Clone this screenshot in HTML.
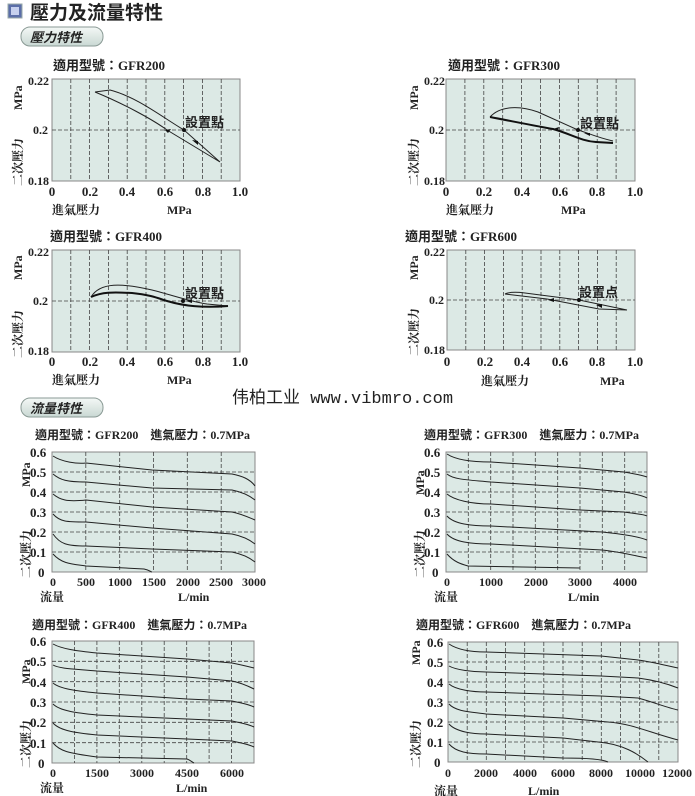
<!DOCTYPE html>
<html><head><meta charset="utf-8"><style>
body{margin:0;background:#fff;width:695px;height:796px;overflow:hidden}
svg{display:block}
text{font-family:"Liberation Serif","Noto Serif CJK SC",serif;font-weight:bold;fill:#222}
.z{font-family:"Liberation Serif","Noto Sans CJK TC",sans-serif}
.g{stroke:#444;stroke-width:.8;stroke-dasharray:4 2;fill:none}
.c{fill:none;stroke:#222;stroke-width:1}
.t{fill:none;stroke:#111;stroke-width:2}
.bx{fill:#dce9e5;stroke:#888;stroke-width:1}
</style></head><body>
<svg width="695" height="796" viewBox="0 0 695 796" xmlns="http://www.w3.org/2000/svg">
<defs>
<linearGradient id="pill" x1="0" y1="0" x2="0" y2="1"><stop offset="0" stop-color="#f4f8f6"/><stop offset="1" stop-color="#c9d8d3"/></linearGradient>
</defs>
<!-- header -->
<rect x="8" y="4" width="14" height="14" fill="#5b6ea8" stroke="#9aa" />
<rect x="11" y="7" width="8" height="8" fill="#c6d0ee"/>
<text x="30" y="19" font-size="19" class="z">壓力及流量特性</text>
<rect x="21" y="27" width="82" height="19" rx="9" fill="url(#pill)" stroke="#8a9a95"/>
<text x="30" y="42" font-size="13" class="z" font-style="italic">壓力特性</text>
<rect x="21" y="398" width="82" height="19" rx="9" fill="url(#pill)" stroke="#8a9a95"/>
<text x="30" y="413" font-size="13" class="z" font-style="italic">流量特性</text>
<text x="232" y="403" font-size="17" style="font-family:'Liberation Mono','Noto Sans CJK SC',monospace;font-weight:normal">伟柏工业 www.vibmro.com</text>

<!-- ===== Pressure chart 1 ===== -->
<text x="53" y="70" font-size="13" class="z">適用型號：GFR200</text>
<g transform="translate(52,79)">
<rect class="bx" width="188" height="102"/>
<path class="g" d="M18.8 0V102M37.6 0V102M56.4 0V102M75.2 0V102M94 0V102M112.8 0V102M131.6 0V102M150.4 0V102M169.2 0V102M0 51H188"/>
<path class="c" d="M43,13 L58,11 C85,18 110,38 132,51 L168,83 M43,13 C70,24 100,40 115,51 L168,83"/>
<path d="M113,51 l6,-1 -3,4z M146,66 l-6,-5 6,1z" fill="#111"/>
<circle cx="132" cy="51" r="2" fill="#111"/>
<text x="133" y="48" font-size="13" class="z">設置點</text>
</g>
<!-- ===== Pressure chart 2 ===== -->
<text x="448" y="70" font-size="13" class="z">適用型號：GFR300</text>
<g transform="translate(446,79)">
<rect class="bx" width="189" height="102"/>
<path class="g" d="M18.9 0V102M37.8 0V102M56.7 0V102M75.6 0V102M94.5 0V102M113.4 0V102M132.3 0V102M151.2 0V102M170.1 0V102M0 51H189"/>
<path class="c" d="M44,38 C55,26 75,27 92,33 L132,51 C145,55 150,58 167,62"/>
<path class="t" d="M44,38 C70,43 95,48 107,50 C125,55 135,62 150,63 L167,64"/>
<path d="M107,50 l6,-2 -1,4z M144,57 l-6,-3 6,0z" fill="#111"/>
<circle cx="132" cy="51" r="2" fill="#111"/>
<text x="134" y="49" font-size="13" class="z">設置點</text>
</g>
<!-- ===== Pressure chart 3 ===== -->
<text x="50" y="241" font-size="13" class="z">適用型號：GFR400</text>
<g transform="translate(52,250)">
<rect class="bx" width="188" height="102"/>
<path class="g" d="M18.8 0V102M37.6 0V102M56.4 0V102M75.2 0V102M94 0V102M112.8 0V102M131.6 0V102M150.4 0V102M169.2 0V102M0 51H188"/>
<path class="c" d="M39,47 C48,32 70,33 100,40 C120,45 140,52 155,54 L176,56"/>
<path class="t" d="M39,47 C50,42 60,42 80,43 C100,45 108,49 115,51 C132,56 150,58 176,56"/>
<circle cx="131" cy="51" r="2" fill="#111"/>
<path d="M140,53 l-6,-2 6,-2z" fill="#111"/>
<text x="133" y="48" font-size="13" class="z">設置點</text>
</g>
<!-- ===== Pressure chart 4 ===== -->
<text x="405" y="241" font-size="13" class="z">適用型號：GFR600</text>
<g transform="translate(447,250)">
<rect class="bx" width="188" height="100"/>
<path class="g" d="M18.8 0V100M37.6 0V100M56.4 0V100M75.2 0V100M94 0V100M112.8 0V100M131.6 0V100M150.4 0V100M169.2 0V100M0 50H188"/>
<path class="c" d="M58,44 C62,42 70,42 78,43 L132,50 L180,60 M58,44 L100,49 L152,59 L180,60"/>
<path d="M101,50 l6,-2 0,4z M155,58 l-6,-3 6,-1z" fill="#111"/>
<circle cx="132" cy="50" r="2" fill="#111"/>
<text x="132" y="47" font-size="13" class="z">設置点</text>
</g>

<!-- pressure axes labels -->
<g font-size="12">
<text x="28" y="85">0.22</text><text x="33" y="134">0.2</text><text x="28" y="185">0.18</text>
<text x="424" y="85">0.22</text><text x="429" y="134">0.2</text><text x="424" y="185">0.18</text>
<text x="28" y="256">0.22</text><text x="33" y="305">0.2</text><text x="28" y="355">0.18</text>
<text x="424" y="256">0.22</text><text x="429" y="304">0.2</text><text x="424" y="354">0.18</text>
</g>
<g font-size="13" text-anchor="middle">
<text x="52" y="196">0</text><text x="90" y="196">0.2</text><text x="127" y="196">0.4</text><text x="165" y="196">0.6</text><text x="203" y="196">0.8</text><text x="240" y="196">1.0</text>
<text x="446" y="196">0</text><text x="484" y="196">0.2</text><text x="522" y="196">0.4</text><text x="560" y="196">0.6</text><text x="597" y="196">0.8</text><text x="635" y="196">1.0</text>
<text x="52" y="366">0</text><text x="90" y="366">0.2</text><text x="127" y="366">0.4</text><text x="165" y="366">0.6</text><text x="203" y="366">0.8</text><text x="240" y="366">1.0</text>
<text x="447" y="366">0</text><text x="485" y="366">0.2</text><text x="522" y="366">0.4</text><text x="560" y="366">0.6</text><text x="597" y="366">0.8</text><text x="635" y="366">1.0</text>
</g>
<g font-size="12" class="z">
<text x="52" y="214">進氣壓力</text><text x="167" y="214">MPa</text>
<text x="446" y="214">進氣壓力</text><text x="561" y="214">MPa</text>
<text x="52" y="384">進氣壓力</text><text x="167" y="384">MPa</text>
<text x="481" y="385">進氣壓力</text><text x="600" y="385">MPa</text>
</g>
<g font-size="12" class="z">
<text transform="translate(22,110) rotate(-90)">MPa</text><text transform="translate(22,186) rotate(-90)">二次壓力</text>
<text transform="translate(418,110) rotate(-90)">MPa</text><text transform="translate(418,186) rotate(-90)">二次壓力</text>
<text transform="translate(22,280) rotate(-90)">MPa</text><text transform="translate(22,358) rotate(-90)">二次壓力</text>
<text transform="translate(418,280) rotate(-90)">MPa</text><text transform="translate(418,356) rotate(-90)">二次壓力</text>
</g>

<!-- ===== Flow chart A GFR200 ===== -->
<text x="35" y="439" font-size="12" class="z">適用型號：GFR200　進氣壓力：0.7MPa</text>
<g transform="translate(52,452)">
<rect class="bx" width="203" height="120"/>
<path class="g" d="M33.8 0V120M67.7 0V120M101.5 0V120M135.3 0V120M169.2 0V120M0 20H203M0 40H203M0 60H203M0 80H203M0 100H203"/>
<path class="c" d="M1,4 C10,10 25,12 34,11 L100,18 L180,22 C190,24 198,27 203,34
M1,22 C8,28 15,30 34,30 L100,36 L180,38 C190,40 198,44 203,48
M1,42 C8,48 15,50 34,48 L100,55 L180,60 C190,62 198,66 203,68
M1,62 C8,70 15,70 34,70 L100,76 L180,82 C190,84 198,88 203,92
M1,82 C8,92 15,94 34,94 L100,97 L180,100 C190,102 198,106 203,110
M1,102 C10,112 20,112 34,114 L92,117 C97,118 99,120 100,120"/>
</g>
<!-- ===== Flow chart B GFR300 ===== -->
<text x="424" y="439" font-size="12" class="z">適用型號：GFR300　進氣壓力：0.7MPa</text>
<g transform="translate(446,452)">
<rect class="bx" width="201" height="120"/>
<path class="g" d="M22.3 0V120M44.7 0V120M67 0V120M89.3 0V120M111.7 0V120M134 0V120M156.3 0V120M178.7 0V120M0 20H201M0 40H201M0 60H201M0 80H201M0 100H201"/>
<path class="c" d="M1,2 C10,8 25,10 45,10 L134,16 L178,20 C190,22 198,24 201,25
M1,22 C8,28 25,28 45,30 L134,36 L178,40 C190,42 198,44 201,46
M1,42 C8,48 25,52 45,52 L134,58 L178,60 C190,62 198,62 201,64
M1,64 C8,72 25,74 45,74 L156,80 C175,82 190,84 201,88
M1,82 C8,90 25,92 45,92 L156,98 C175,100 190,104 201,106
M1,102 C8,110 15,112 22,114 L134,116"/>
</g>
<!-- ===== Flow chart C GFR400 ===== -->
<text x="32" y="629" font-size="12" class="z">適用型號：GFR400　進氣壓力：0.7MPa</text>
<g transform="translate(52,641)">
<rect class="bx" width="202" height="122"/>
<path class="g" d="M22.4 0V122M44.9 0V122M67.3 0V122M89.8 0V122M112.2 0V122M134.7 0V122M157.1 0V122M179.6 0V122M0 20.3H202M0 40.7H202M0 61H202M0 81.3H202M0 101.7H202"/>
<path class="c" d="M1,3 C10,8 25,10 45,12 L135,18 L180,22 C190,24 198,26 202,27
M1,24 C8,28 25,28 45,30 L135,36 L180,40 C190,42 198,46 202,48
M1,42 C8,48 25,50 45,52 L135,58 L180,60 C190,62 198,64 202,66
M1,63 C8,70 25,72 45,74 L135,78 L180,80 C190,82 198,84 202,86
M1,82 C8,90 25,92 45,94 L135,98 L180,100 C190,102 198,104 202,106
M1,102 C8,110 15,112 45,116 L135,118 C138,119 140,121 142,122"/>
</g>
<!-- ===== Flow chart D GFR600 ===== -->
<text x="416" y="629" font-size="12" class="z">適用型號：GFR600　進氣壓力：0.7MPa</text>
<g transform="translate(448,642)">
<rect class="bx" width="230" height="120"/>
<path class="g" d="M19.2 0V120M38.3 0V120M57.5 0V120M76.7 0V120M95.8 0V120M115 0V120M134.2 0V120M153.3 0V120M172.5 0V120M191.7 0V120M210.8 0V120M0 20H230M0 40H230M0 60H230M0 80H230M0 100H230"/>
<path class="c" d="M1,2 C10,8 25,10 38,10 L153,14 L190,18 C205,20 220,24 230,26
M1,24 C8,28 25,30 38,30 L153,34 L190,36 C205,38 220,42 230,46
M1,42 C8,48 25,50 38,50 L153,54 L190,56 C205,60 220,66 230,68
M1,62 C8,70 25,70 38,72 L115,76 L160,80 C185,82 200,90 230,98
M1,82 C8,90 25,92 38,92 L115,96 L150,100 C175,102 190,112 200,120
M1,102 C8,110 20,112 38,112 L115,116 C150,116 158,119 160,120"/>
</g>

<!-- flow tick labels -->
<g font-size="13">
<text x="30" y="457">0.6</text><text x="30" y="477">0.5</text><text x="30" y="497">0.4</text><text x="30" y="517">0.3</text><text x="30" y="537">0.2</text><text x="30" y="557">0.1</text><text x="38" y="577">0</text>
<text x="424" y="457">0.6</text><text x="424" y="477">0.5</text><text x="424" y="497">0.4</text><text x="424" y="517">0.3</text><text x="424" y="537">0.2</text><text x="424" y="557">0.1</text><text x="432" y="577">0</text>
<text x="30" y="646">0.6</text><text x="30" y="666">0.5</text><text x="30" y="687">0.4</text><text x="30" y="707">0.3</text><text x="30" y="727">0.2</text><text x="30" y="748">0.1</text><text x="38" y="768">0</text>
<text x="427" y="647">0.6</text><text x="427" y="667">0.5</text><text x="427" y="687">0.4</text><text x="427" y="707">0.3</text><text x="427" y="727">0.2</text><text x="427" y="747">0.1</text><text x="434" y="767">0</text>
</g>
<g font-size="12" text-anchor="middle">
<text x="53" y="586">0</text><text x="86" y="586">500</text><text x="120" y="586">1000</text><text x="154" y="586">1500</text><text x="188" y="586">2000</text><text x="221" y="586">2500</text><text x="254" y="586">3000</text>
<text x="447" y="586">0</text><text x="491" y="586">1000</text><text x="536" y="586">2000</text><text x="580" y="586">3000</text><text x="625" y="586">4000</text>
<text x="53" y="777">0</text><text x="97" y="777">1500</text><text x="142" y="777">3000</text><text x="187" y="777">4500</text><text x="232" y="777">6000</text>
<text x="448" y="777">0</text><text x="486" y="777">2000</text><text x="525" y="777">4000</text><text x="563" y="777">6000</text><text x="601" y="777">8000</text><text x="640" y="777">10000</text><text x="677" y="777">12000</text>
</g>
<g font-size="12" class="z">
<text x="40" y="601">流量</text><text x="178" y="601">L/min</text>
<text x="434" y="601">流量</text><text x="568" y="601">L/min</text>
<text x="40" y="792">流量</text><text x="176" y="792">L/min</text>
<text x="434" y="795">流量</text><text x="528" y="795">L/min</text>
</g>
<g font-size="12" class="z">
<text transform="translate(30,487) rotate(-90)">MPa</text><text transform="translate(30,578) rotate(-90)">二次壓力</text>
<text transform="translate(424,495) rotate(-90)">MPa</text><text transform="translate(424,578) rotate(-90)">二次壓力</text>
<text transform="translate(30,684) rotate(-90)">MPa</text><text transform="translate(30,768) rotate(-90)">二次壓力</text>
<text transform="translate(420,665) rotate(-90)">MPa</text><text transform="translate(420,768) rotate(-90)">二次壓力</text>
</g>
</svg>
</body></html>
